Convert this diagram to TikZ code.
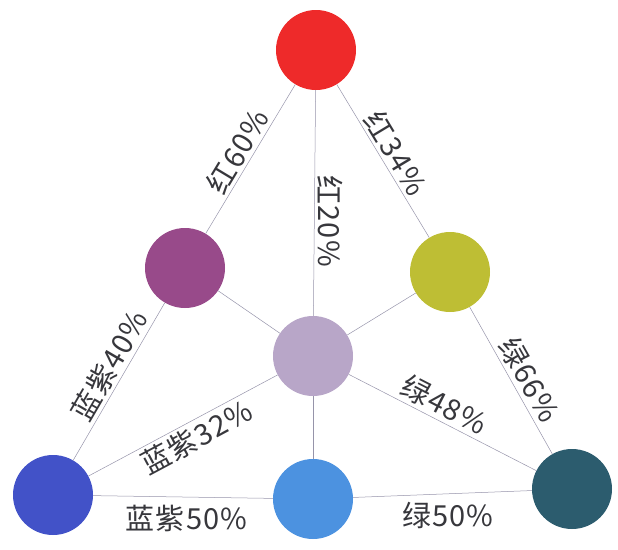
\documentclass[tikz,border=0pt]{standalone}
\usepackage{fontspec}
\setmainfont{Noto Sans CJK SC}
\definecolor{cred}{RGB}{238,42,42}
\definecolor{cpurple}{RGB}{152,74,138}
\definecolor{cyellow}{RGB}{190,190,52}
\definecolor{clav}{RGB}{184,166,200}
\definecolor{cblue}{RGB}{66,82,200}
\definecolor{clight}{RGB}{76,146,224}
\definecolor{cteal}{RGB}{44,92,110}
\definecolor{linegray}{RGB}{150,148,170}
\definecolor{textgray}{RGB}{55,55,60}

\tikzset{
    dot/.style={circle, minimum size=80pt, inner sep=0pt, fill=#1},
    link/.style={draw=linegray, line width=0.5pt},
    tag/.style={font=\fontsize{29}{32}\selectfont\addfontfeature{LetterSpace=4}, text=textgray, inner sep=3pt}
}

\begin{document}
\begin{tikzpicture}[x=1pt, y=-1pt]
    \useasboundingbox (0,0) rectangle (618,549);

    % seven colours
    \node[dot=cred]    (red)    at (316,50)  {};
    \node[dot=cpurple] (purple) at (185,268) {};
    \node[dot=cyellow] (yellow) at (450,272) {};
    \node[dot=clav]    (mix)    at (313,356) {};
    \node[dot=cblue]   (blue)   at (53,495)  {};
    \node[dot=clight]  (light)  at (313,499) {};
    \node[dot=cteal]   (teal)   at (572,489) {};

    % outer triangle
    \draw[link] (red) -- node[tag, sloped, above] {红60\%} (purple);
    \draw[link] (purple) -- node[tag, sloped, above, pos=0.45] {蓝紫40\%} (blue);
    \draw[link] (red) -- node[tag, sloped, above] {红34\%} (yellow);
    \draw[link] (yellow) -- node[tag, sloped, above, pos=0.55] {绿66\%} (teal);
    \draw[link] (blue) -- node[tag, below=5pt, pos=0.52] {蓝紫50\%} (light);
    \draw[link] (light) -- node[tag, below=5pt, pos=0.53] {绿50\%} (teal);

    % spokes to the middle
    \draw[link] (red) -- node[tag, rotate=-90, anchor=south, pos=0.58] {红20\%} (mix);
    \draw[link] (purple) -- (mix);
    \draw[link] (yellow) -- (mix);
    \draw[link] (mix) -- node[tag, sloped, below, pos=0.47] {蓝紫32\%} (blue);
    \draw[link] (mix) -- node[tag, sloped, above, pos=0.47] {绿48\%} (teal);
    \draw[link] (mix) -- (light);
\end{tikzpicture}
\end{document}
